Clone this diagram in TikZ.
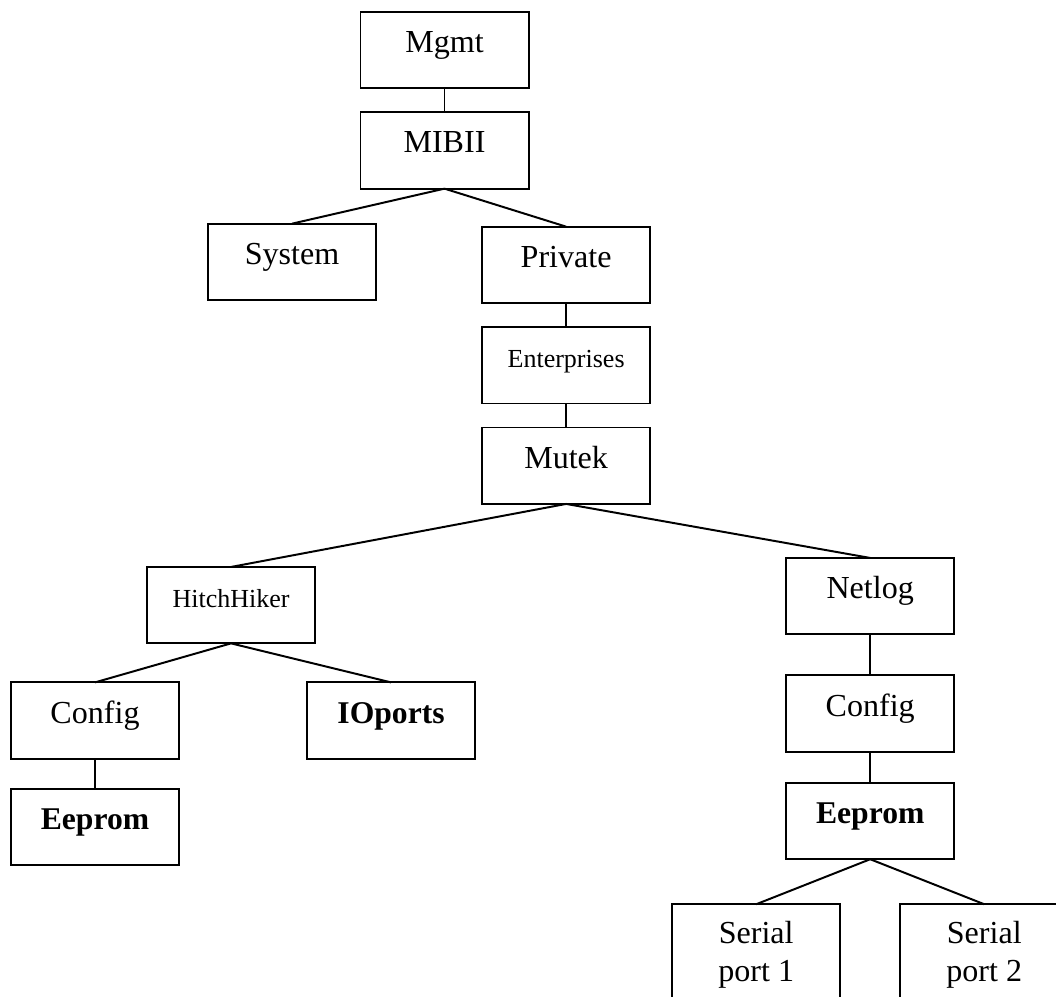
\documentclass[tikz,border=0pt]{standalone}
\usepackage{fontspec}
\setmainfont{Liberation Serif}
\usetikzlibrary{positioning}

\begin{document}
\begin{tikzpicture}[
    x=0.025cm, y=-0.025cm,
    box/.style={rectangle, draw, line width=1.4pt, outer sep=0pt, minimum width=4.2cm, minimum height=1.91cm, align=center, text height=0.88em, text depth=0.52em, font=\fontsize{22.8}{27}\selectfont},
    smallbox/.style={box, font=\fontsize{18.5}{22}\selectfont},
    boldbox/.style={box, font=\fontsize{22.5}{27}\selectfont\bfseries},
    twobox/.style={rectangle, draw, line width=1.4pt, outer sep=0pt, minimum width=4.2cm, minimum height=3.85cm, align=center, text height=1.9em, text depth=1.9em, font=\fontsize{22.8}{27}\selectfont},
    link/.style={line width=1.4pt}
]
    \clip (0,0) rectangle (1056,996);

    % Top of the tree
    \node[box] (mgmt) at (444.5,50) {Mgmt};
    \node[box, below=0.6cm of mgmt] (mibii) {MIBII};
    \node[box, below=0.875cm of mibii, xshift=-3.81cm] (system) {System};
    \node[box, below=0.95cm of mibii, xshift=3.04cm] (private) {Private};
    \node[smallbox, below=0.6cm of private] (enterprises) {Enterprises};
    \node[box, below=0.6cm of enterprises] (mutek) {Mutek};

    % HitchHiker branch
    \node[smallbox, below=1.575cm of mutek, xshift=-8.375cm] (hitch) {HitchHiker};
    \node[box, below=0.975cm of hitch, xshift=-3.4cm] (hconfig) {Config};
    \node[boldbox, below=0.975cm of hitch, xshift=4cm] (ioports) {IOports};
    \node[boldbox, below=0.75cm of hconfig] (heeprom) {Eeprom};

    % Netlog branch
    \node[box, below=1.35cm of mutek, xshift=7.6cm] (netlog) {Netlog};
    \node[box, below=1.025cm of netlog] (nconfig) {Config};
    \node[boldbox, below=0.775cm of nconfig] (neeprom) {Eeprom};
    \node[twobox, below=1.125cm of neeprom, xshift=-2.85cm] (serial1) {Serial\\port 1};
    \node[twobox, below=1.125cm of neeprom, xshift=2.85cm] (serial2) {Serial\\port 2};

    % Links
    \draw[link] (mgmt) -- (mibii);
    \draw[link] (mibii.south) -- (system.north);
    \draw[link] (mibii.south) -- (private.north);
    \draw[link] (private) -- (enterprises);
    \draw[link] (enterprises) -- (mutek);
    \draw[link] (mutek.south) -- (hitch.north);
    \draw[link] (mutek.south) -- (netlog.north);
    \draw[link] (hitch.south) -- (hconfig.north);
    \draw[link] (hitch.south) -- (ioports.north);
    \draw[link] (hconfig) -- (heeprom);
    \draw[link] (netlog) -- (nconfig);
    \draw[link] (nconfig) -- (neeprom);
    \draw[link] (neeprom.south) -- (serial1.north);
    \draw[link] (neeprom.south) -- (serial2.north);

\end{tikzpicture}
\end{document}
